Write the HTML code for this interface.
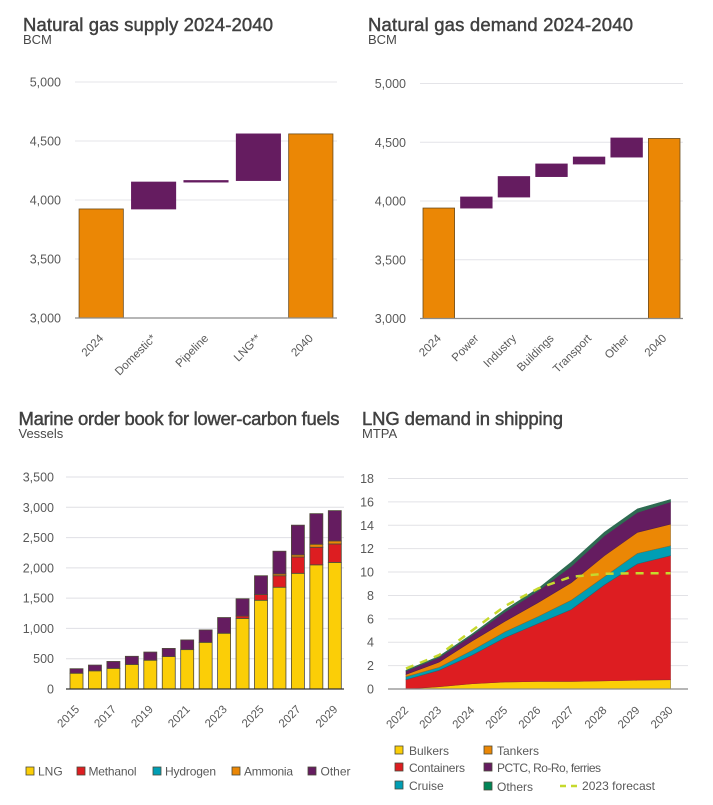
<!DOCTYPE html>
<html lang="en">
<head>
<meta charset="utf-8">
<title>Natural gas and LNG charts</title>
<style>
html,body{margin:0;padding:0;background:#fff;}
svg{display:block;}
text{font-family:"Liberation Sans",sans-serif;}
.title{font-size:18.5px;fill:#404040;stroke:#404040;stroke-width:.45px;}
.sub{font-size:13px;fill:#484848;}
.leg{font-size:12px;fill:#595959;}
.tick{font-size:12.5px;fill:#595959;}
.xtick{font-size:11.5px;fill:#595959;}
.sw{stroke:#4a4a3a;stroke-width:.8px;}
</style>
</head>
<body>
<svg id="page" xmlns="http://www.w3.org/2000/svg" width="713" height="805" viewBox="0 0 713 805">
<rect x="0" y="0" width="713" height="805" fill="#fff"/>
<text class="title" x="23" y="31" textLength="250" lengthAdjust="spacing">Natural gas supply 2024-2040</text>
<text class="sub" x="23" y="44">BCM</text>
<text class="title" x="368" y="31" textLength="265" lengthAdjust="spacing">Natural gas demand 2024-2040</text>
<text class="sub" x="368" y="44">BCM</text>
<text class="title" x="18.5" y="425" textLength="321" lengthAdjust="spacing">Marine order book for lower-carbon fuels</text>
<text class="sub" x="18.5" y="438">Vessels</text>
<text class="title" x="362" y="425" textLength="201" lengthAdjust="spacing">LNG demand in shipping</text>
<text class="sub" x="362" y="438">MTPA</text>

<g>
<rect class="sw" x="26" y="767" width="8" height="8" fill="#fbce07"/>
<text class="leg" x="38" y="775.500">LNG</text>
<rect class="sw" x="77" y="767" width="8" height="8" fill="#dd1d21"/>
<text class="leg" x="88.500" y="775.500" textLength="48">Methanol</text>
<rect class="sw" x="153" y="767" width="8" height="8" fill="#009eb4"/>
<text class="leg" x="165" y="775.500" textLength="51">Hydrogen</text>
<rect class="sw" x="232" y="767" width="8" height="8" fill="#eb8705"/>
<text class="leg" x="244" y="775.500" textLength="49">Ammonia</text>
<rect class="sw" x="308" y="767" width="8" height="8" fill="#651c60"/>
<text class="leg" x="320.500" y="775.500" textLength="30">Other</text>
</g>

<g>
<rect class="sw" x="395" y="746" width="8" height="8" fill="#fbce07"/>
<text class="leg" x="409" y="755">Bulkers</text>
<rect class="sw" x="395" y="763" width="8" height="8" fill="#dd1d21"/>
<text class="leg" x="409" y="772" textLength="56">Containers</text>
<rect class="sw" x="395" y="781" width="8" height="8" fill="#009eb4"/>
<text class="leg" x="409" y="790">Cruise</text>
<rect class="sw" x="484" y="746" width="8" height="8" fill="#eb8705"/>
<text class="leg" x="497" y="755">Tankers</text>
<rect class="sw" x="484" y="763" width="8" height="8" fill="#651c60"/>
<text class="leg" x="497" y="772" textLength="104">PCTC, Ro-Ro, ferries</text>
<rect class="sw" x="484" y="782" width="8" height="8" fill="#008557"/>
<text class="leg" x="497" y="791">Others</text>
<line x1="560" y1="786" x2="578" y2="786" stroke="#c6d92d" stroke-width="2.5" stroke-dasharray="6 5"/>
<text class="leg" x="582" y="790" textLength="73">2023 forecast</text>
</g>
</svg>

<script>
const supplyCategories = ['2024', 'Domestic*', 'Pipeline', 'LNG**', '2040'];
const supplyStart = [3924];
const supplyChanges = [228, 13, 395];
const supplyEnd = [4560];
const supplyTicks = [3000, 3500, 4000, 4500, 5000];

const demandCategories = ['2024', 'Power', 'Industry', 'Buildings', 'Transport', 'Other', '2040'];
const demandStart = [3940];
const demandChanges = [94, 174, 107, 59, 162];
const demandEnd = [4532];
const demandTicks = [3000, 3500, 4000, 4500, 5000];

const orderYears = ['2015', '2016', '2017', '2018', '2019', '2020', '2021', '2022', '2023', '2024', '2025', '2026', '2027', '2028', '2029'];
const orderLng = [260, 300, 340, 405, 475, 535, 650, 770, 920, 1165, 1465, 1680, 1910, 2050, 2090];
const orderMethanol = [0, 0, 0, 0, 0, 0, 0, 0, 0, 40, 95, 190, 270, 290, 305];
const orderHydrogen = [0, 0, 0, 0, 0, 0, 0, 0, 0, 0, 0, 0, 0, 0, 0];
const orderAmmonia = [0, 0, 0, 0, 0, 0, 0, 0, 0, 0, 0, 30, 35, 50, 50];
const orderOther = [75, 95, 115, 135, 135, 135, 160, 205, 260, 285, 310, 375, 490, 505, 500];
const orderTicks = [0, 500, 1000, 1500, 2000, 2500, 3000, 3500];

const shipYears = ['2022', '2023', '2024', '2025', '2026', '2027', '2028', '2029', '2030'];
const shipBulkers = [0, 0.2, 0.45, 0.6, 0.65, 0.65, 0.7, 0.75, 0.8];
const shipContainers = [0.8, 1.4, 2.45, 3.8, 4.95, 6.15, 8.2, 9.95, 10.6];
const shipCruise = [0.25, 0.25, 0.4, 0.5, 0.6, 0.8, 0.7, 0.9, 0.85];
const shipTankers = [0.2, 0.45, 0.8, 0.9, 1.2, 1.5, 1.8, 1.8, 1.85];
const shipPctc = [0.3, 0.4, 0.5, 0.8, 1.0, 1.4, 1.7, 1.7, 1.9];
const shipOthers = [0.05, 0.1, 0.1, 0.2, 0.2, 0.35, 0.3, 0.3, 0.2];
const shipForecast = [1.75, 2.9, 5.0, 7.1, 8.6, 9.6, 9.85, 9.9, 9.9];
const shipTicks = [0, 2, 4, 6, 8, 10, 12, 14, 16, 18];

const NS = 'http://www.w3.org/2000/svg';
const page = document.getElementById('page');

function make(tag, parent, attrs, content) {
  const el = document.createElementNS(NS, tag);
  for (const k in attrs) el.setAttribute(k, attrs[k]);
  if (content !== undefined) el.textContent = content;
  parent.appendChild(el);
  return el;
}

function linearScale(dMin, dMax, pxBottom, pxTop) {
  return function (v) { return pxBottom - (v - dMin) / (dMax - dMin) * (pxBottom - pxTop); };
}

function fmt(v) { return String(v).replace(/\B(?=(\d{3})+$)/g, ','); }

function drawYAxis(g, ticks, y, x0, x1, labelX, gridColor) {
  ticks.forEach(function (t) {
    const line = make('line', g, { x1: x0, x2: x1, y1: y(t), y2: y(t), stroke: gridColor, 'stroke-width': 1 });
    
    
    const label = make('text', g, { class: 'tick', x: labelX, y: y(t) + 4.5, 'text-anchor': 'end' }, fmt(t));
    
    
  });
}

function drawXLabel(g, text, cx, ex, ey) {
  const label = make('text', g, { class: 'xtick', x: cx + ex, y: ey, 'text-anchor': 'end', transform: 'rotate(-45 ' + (cx + ex) + ' ' + ey + ')' }, text);
  
  
}

function drawWaterfall(name, cats, start, changes, end, ticks, box) {
  const g = make('g', page, {});
  
  
  const y = linearScale(ticks[0], ticks[ticks.length - 1], box.y0, box.y1);
  drawYAxis(g, ticks, y, box.x0, box.x1, box.labelX, '#e4e4e8');
  const slot = (box.x1 - box.x0) / cats.length;
  const width = slot * box.fill;
  let running = start[0];
  cats.forEach(function (c, i) {
    const left = box.x0 + slot * i + (slot - width) / 2;
    let hi, lo, color, stroke;
    if (i === 0 || i === cats.length - 1) {
      hi = i === 0 ? start[0] : end[0];
      lo = ticks[0];
      color = '#eb8705';
      stroke = '#6b4a1a';
    } else {
      lo = running;
      hi = running + changes[i - 1];
      running = hi;
      color = '#651c60';
      stroke = '#651c60';
    }
    const bar = make('rect', g, { x: left, y: y(hi), width: width, height: y(lo) - y(hi), fill: color, stroke: stroke, 'stroke-width': 0.8 });
    
    
    drawXLabel(g, c, left + width / 2, box.labelDx, box.labelY);
  });
  const base = make('line', g, { x1: box.x0, x2: box.x1, y1: box.y0, y2: box.y0, stroke: '#8a8a8a', 'stroke-width': 1.3 });
  
  
}

drawWaterfall('supply-chart', supplyCategories, supplyStart, supplyChanges, supplyEnd, supplyTicks,
  { x0: 75, x1: 337, y0: 318, y1: 82, fill: 0.845, labelX: 61, labelDx: 3, labelY: 339 });
drawWaterfall('demand-chart', demandCategories, demandStart, demandChanges, demandEnd, demandTicks,
  { x0: 420, x1: 683, y0: 318.5, y1: 83.5, fill: 0.84, labelX: 406, labelDx: 3, labelY: 339 });

function drawOrderBook() {
  const g = make('g', page, {});
  
  
  const x0 = 66, x1 = 344;
  const y = linearScale(0, 3500, 689, 477);
  drawYAxis(g, orderTicks, y, x0, x1, 54, '#dfdfe4');
  const series = [
    { name: 'lng', values: orderLng, color: '#fbce07' },
    { name: 'methanol', values: orderMethanol, color: '#dd1d21' },
    { name: 'hydrogen', values: orderHydrogen, color: '#009eb4' },
    { name: 'ammonia', values: orderAmmonia, color: '#eb8705' },
    { name: 'other', values: orderOther, color: '#651c60' }
  ];
  const slot = 18.45;
  const width = 13;
  orderYears.forEach(function (year, i) {
    const cx = 76.5 + slot * i;
    let acc = 0;
    series.forEach(function (s) {
      const v = s.values[i];
      if (v > 0) {
        const seg = make('rect', g, { x: cx - width / 2, y: y(acc + v), width: width, height: y(acc) - y(acc + v), fill: s.color, stroke: '#4f4a3a', 'stroke-width': 0.8 });
        
        
      }
      acc += v;
    });
    if (i % 2 === 0) drawXLabel(g, year, cx, 3.5, 710);
  });
  const base = make('line', g, { x1: x0, x2: x1, y1: 689, y2: 689, stroke: '#333', 'stroke-width': 1.2 });
  
  
}
drawOrderBook();

function drawShipping() {
  const g = make('g', page, {});
  
  
  const x0 = 388, x1 = 688;
  const y = linearScale(0, 18, 689, 478.5);
  const x = function (i) { return 406 + (670.5 - 406) / (shipYears.length - 1) * i; };
  drawYAxis(g, shipTicks, y, x0, x1, 374, '#e2e2e6');
  const series = [
    { name: 'bulkers', values: shipBulkers, color: '#fbce07', edge: '#8f7a20' },
    { name: 'containers', values: shipContainers, color: '#dd1d21', edge: '#a8252a' },
    { name: 'cruise', values: shipCruise, color: '#009eb4', edge: '#17707c' },
    { name: 'tankers', values: shipTankers, color: '#eb8705', edge: '#9c6a20' },
    { name: 'pctc', values: shipPctc, color: '#651c60', edge: '#551a50' },
    { name: 'others', values: shipOthers, color: '#2e6b52', edge: '#2e6b52' }
  ];
  let lower = shipYears.map(function () { return 0; });
  series.forEach(function (s) {
    const upper = lower.map(function (v, i) { return v + s.values[i]; });
    const top = upper.map(function (v, i) { return x(i) + ',' + y(v); });
    const bottom = lower.map(function (v, i) { return x(i) + ',' + y(v); }).reverse();
    const area = make('polygon', g, { points: top.concat(bottom).join(' '), fill: s.color, stroke: s.edge, 'stroke-width': 0.6 });
    
    
    lower = upper;
  });
  const base = make('line', g, { x1: x0, x2: x1, y1: 689, y2: 689, stroke: '#8a8a8a', 'stroke-width': 1.3 });
  
  
  const pts = shipForecast.map(function (v, i) { return x(i) + ',' + y(v); }).join(' ');
  const line = make('polyline', g, { points: pts, fill: 'none', stroke: '#c6d92d', 'stroke-width': 2.5, 'stroke-dasharray': '8 7' });
  
  
  shipYears.forEach(function (year, i) { drawXLabel(g, year, x(i), 3, 711); });
}
drawShipping();
</script>
</body>
</html>
